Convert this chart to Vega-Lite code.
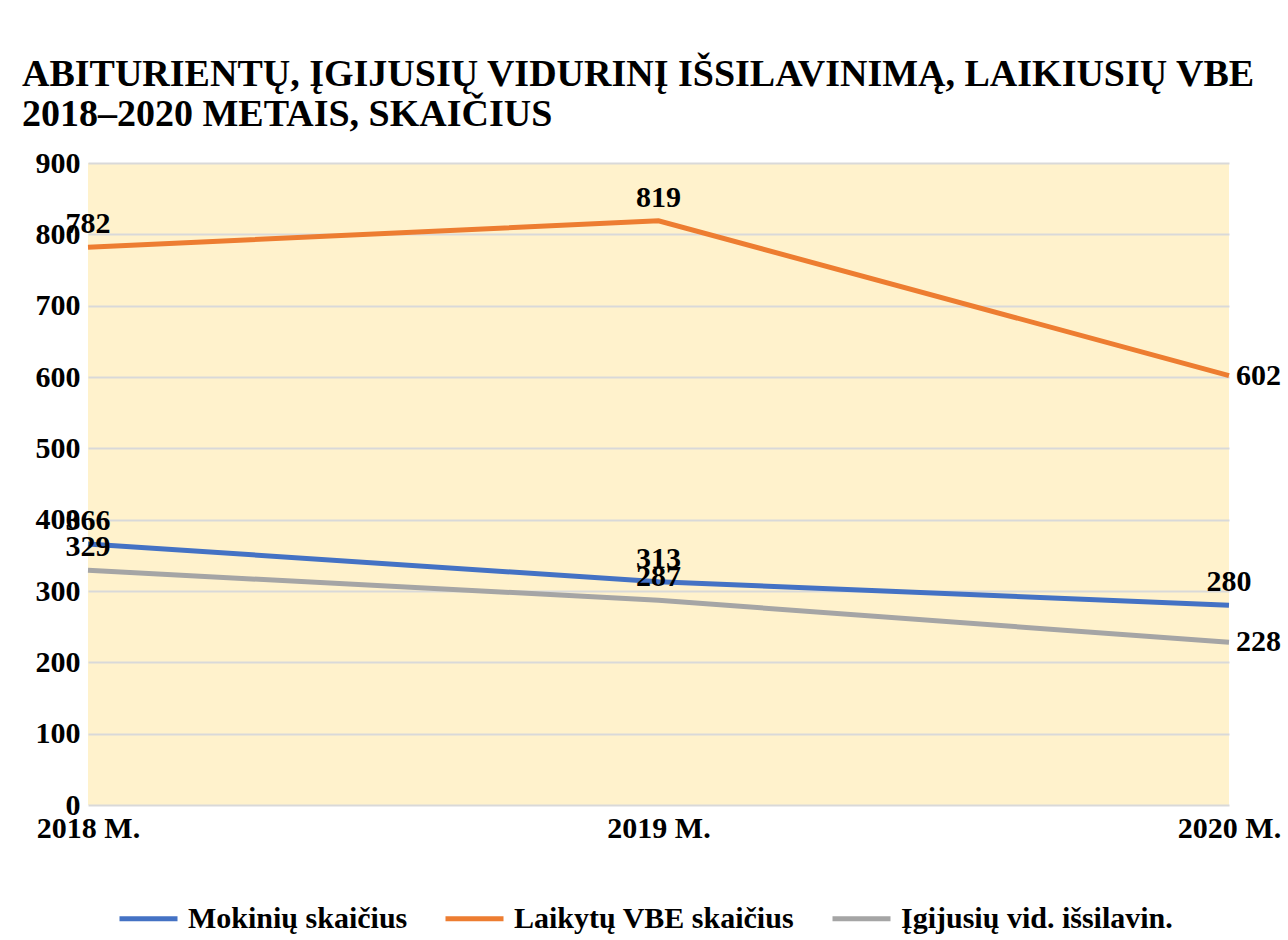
{
  "$schema": "https://vega.github.io/schema/vega-lite/v6.json",
  "width": 1141,
  "height": 642,
  "autosize": "none",
  "padding": {"left": 88, "top": 163, "right": 59, "bottom": 135},
  "background": "white",
  "title": {
    "text": ["ABITURIENTŲ, ĮGIJUSIŲ VIDURINĮ IŠSILAVINIMĄ, LAIKIUSIŲ VBE", "2018–2020 METAIS, SKAIČIUS"],
    "anchor": "start",
    "frame": "group",
    "dx": -66,
    "offset": 14,
    "font": "Liberation Serif",
    "fontSize": 38,
    "fontWeight": "bold",
    "lineHeight": 40,
    "color": "black"
  },
  "data": {
    "values": [
      {"year": "2018 M.", "series": "Mokinių skaičius", "value": 366},
      {"year": "2019 M.", "series": "Mokinių skaičius", "value": 313},
      {"year": "2020 M.", "series": "Mokinių skaičius", "value": 280},
      {"year": "2018 M.", "series": "Laikytų VBE skaičius", "value": 782},
      {"year": "2019 M.", "series": "Laikytų VBE skaičius", "value": 819},
      {"year": "2020 M.", "series": "Laikytų VBE skaičius", "value": 602},
      {"year": "2018 M.", "series": "Įgijusių vid. išsilavin.", "value": 329},
      {"year": "2019 M.", "series": "Įgijusių vid. išsilavin.", "value": 287},
      {"year": "2020 M.", "series": "Įgijusių vid. išsilavin.", "value": 228}
    ]
  },
  "encoding": {
    "x": {
      "field": "year",
      "type": "ordinal",
      "scale": {"type": "point", "padding": 0},
      "axis": {
        "title": null,
        "labelAngle": 0,
        "ticks": false,
        "domain": false,
        "grid": false,
        "labelPadding": 8,
        "labelFont": "Liberation Serif",
        "labelFontSize": 30,
        "labelFontWeight": "bold",
        "labelColor": "black"
      }
    },
    "y": {
      "field": "value",
      "type": "quantitative",
      "scale": {"domain": [0, 900], "nice": false},
      "axis": {
        "title": null,
        "values": [0, 100, 200, 300, 400, 500, 600, 700, 800, 900],
        "ticks": false,
        "domain": false,
        "grid": true,
        "gridColor": "#D9D9D9",
        "gridWidth": 2,
        "labelPadding": 8,
        "labelFont": "Liberation Serif",
        "labelFontSize": 30,
        "labelFontWeight": "bold",
        "labelColor": "black"
      }
    }
  },
  "layer": [
    {
      "mark": {"type": "line", "strokeWidth": 5},
      "encoding": {
        "color": {
          "field": "series",
          "type": "nominal",
          "scale": {
            "domain": ["Mokinių skaičius", "Laikytų VBE skaičius", "Įgijusių vid. išsilavin."],
            "range": ["#4472C4", "#ED7D31", "#A5A5A5"]
          },
          "legend": {
            "title": null,
            "orient": "none",
            "legendX": 29,
            "legendY": 724,
            "direction": "horizontal",
            "symbolType": "stroke",
            "symbolSize": 3364,
            "symbolStrokeWidth": 5,
            "labelFont": "Liberation Serif",
            "labelFontSize": 30,
            "labelFontWeight": "bold",
            "labelColor": "black",
            "labelOffset": 8,
            "columnPadding": 27,
            "labelLimit": 400
          }
        }
      }
    },
    {
      "transform": [{"filter": "datum.year != '2020 M.' || datum.series == 'Mokinių skaičius'"}],
      "mark": {
        "type": "text",
        "dy": -23,
        "baseline": "middle",
        "align": "center",
        "font": "Liberation Serif",
        "fontSize": 30,
        "fontWeight": "bold",
        "color": "black"
      },
      "encoding": {"text": {"field": "value", "type": "quantitative"}}
    },
    {
      "transform": [{"filter": "datum.year == '2020 M.' && datum.series != 'Mokinių skaičius'"}],
      "mark": {
        "type": "text",
        "dx": 7,
        "baseline": "middle",
        "align": "left",
        "font": "Liberation Serif",
        "fontSize": 30,
        "fontWeight": "bold",
        "color": "black"
      },
      "encoding": {"text": {"field": "value", "type": "quantitative"}}
    }
  ],
  "config": {
    "view": {"fill": "#FFF2CC", "stroke": null}
  }
}
